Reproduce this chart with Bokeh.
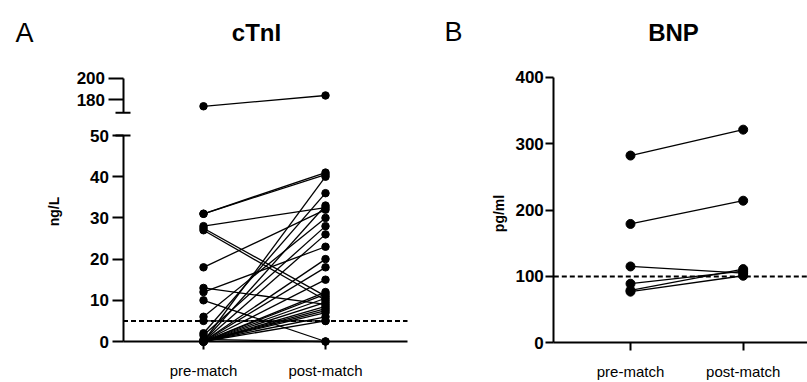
import math
from bokeh.plotting import figure
from bokeh.models import FixedTicker, Label, ColumnDataSource, Range1d, LinearAxis
from bokeh.embed import file_html
from bokeh.resources import INLINE

# ---------------- data ----------------
categories = ["pre-match", "post-match"]

# cTnI (ng/L), one entry per subject
ctni_pre = [31, 31, 28, 27.5, 27, 18, 13, 12, 10, 6, 5, 2, 1.5,
            0, 0, 0, 0, 0, 0, 0, 0, 0, 0, 0, 0, 0, 0, 0, 0.5, 0, 174]
ctni_post = [41, 40.5, 32.5, 11, 10, 32, 9, 23, 0, 30, 5, 36, 28,
             40, 33, 26, 20, 18, 15, 12, 11.5, 10.5, 9.5, 8.5, 8, 7, 6, 5, 0, 7.5, 184]
ctni_low_ticks = [0, 10, 20, 30, 40, 50]
ctni_high_ticks = [180, 200]
ctni_break = 168
ctni_cutoff = 5

# BNP (pg/ml)
bnp_pre = [282, 179, 115, 89, 79, 77]
bnp_post = [321, 214, 105, 108, 111, 101]
bnp_ticks = [0, 100, 200, 300, 400]
bnp_cutoff = 100

# ---------------- layout helpers ----------------
W, H = 807, 382
FONT = "Liberation Sans"
xpos = {c: i + 1 for i, c in enumerate(categories)}
x_pre, x_post = xpos[categories[0]], xpos[categories[1]]


def xrange_from(px_a, va, px_b, vb):
    s = (px_b - px_a) / (vb - va)
    start = va - px_a / s
    return Range1d(start, start + W / s), s


def yrange_from(py_a, va, py_b, vb):
    s = (py_a - py_b) / (vb - va)
    start = va - (H - py_a) / s
    return Range1d(start, start + H / s), s


xl_rng, xl_s = xrange_from(203, x_pre, 325, x_post)
xr_rng, xr_s = xrange_from(630, x_pre, 742.7, x_post)
yl_rng, yl_s = yrange_from(341, 0, 135, 50)
yh_rng, yh_s = yrange_from(99.3, 180, 77.7, 200)
yr_rng, yr_s = yrange_from(342.3, 0, 76.7, 400)

XL = (x_pre - (203 - 122.5) / xl_s, x_post + (407 - 325) / xl_s)
XR = (x_pre - (630 - 553.3) / xr_s, xr_rng.end)

p = figure(width=W, height=H, x_range=Range1d(0, W), y_range=Range1d(H, 0),
           min_border=0, x_axis_location=None, y_axis_location=None, title=None,
           output_backend="svg", toolbar_location=None)
p.xgrid.visible = False
p.ygrid.visible = False
p.outline_line_color = None
p.background_fill_color = "white"
p.border_fill_color = "white"
p.extra_x_ranges = {"xl": xl_rng, "xr": xr_rng}
p.extra_y_ranges = {"yl": yl_rng, "yh": yh_rng, "yr": yr_rng}


def make_axis(xname, yname, loc, ticks, bounds, tick_out, standoff, size="17px", bold=True):
    ax = LinearAxis(x_range_name=xname, y_range_name=yname, fixed_location=loc,
                    ticker=FixedTicker(ticks=ticks), bounds=bounds)
    ax.axis_line_width = 2
    ax.axis_line_color = "black"
    ax.major_tick_line_width = 2
    ax.major_tick_line_color = "black"
    ax.major_tick_out = tick_out
    ax.major_tick_in = 0
    ax.minor_tick_line_color = None
    ax.major_label_text_font = FONT
    ax.major_label_text_font_size = size
    ax.major_label_text_font_style = "bold" if bold else "normal"
    ax.major_label_text_color = "black"
    ax.major_label_standoff = standoff
    return ax


def draw_pairs(pre, post, xname, yname, size):
    src = ColumnDataSource(dict(x0=[x_pre] * len(pre), y0=pre,
                                x1=[x_post] * len(post), y1=post))
    kw = dict(source=src, x_range_name=xname, y_range_name=yname)
    p.segment("x0", "y0", "x1", "y1", line_color="black", line_width=1.3, **kw)
    p.scatter("x0", "y0", size=size, color="black", **kw)
    p.scatter("x1", "y1", size=size, color="black", **kw)


def text(x, y, t, size, bold=False, align="left", angle=0.0, baseline="alphabetic"):
    p.add_layout(Label(x=x, y=y, text=t, text_font=FONT, text_font_size=size,
                       text_font_style="bold" if bold else "normal", text_color="black",
                       text_align=align, text_baseline=baseline, angle=angle))


# ---------------- cTnI panel ----------------
split = ctni_low_ticks[-1]
low_pre = [a for a, b in zip(ctni_pre, ctni_post) if max(a, b) <= split]
low_post = [b for a, b in zip(ctni_pre, ctni_post) if max(a, b) <= split]
high_pre = [a for a, b in zip(ctni_pre, ctni_post) if max(a, b) > split]
high_post = [b for a, b in zip(ctni_pre, ctni_post) if max(a, b) > split]

p.add_layout(make_axis("xl", "yl", XL[0], ctni_low_ticks,
                       (ctni_low_ticks[0], ctni_low_ticks[-1]), 11, 3), "left")
p.add_layout(make_axis("xl", "yh", XL[0], ctni_high_ticks,
                       (ctni_break, ctni_high_ticks[-1]), 15, 3), "left")
xa = make_axis("xl", "yl", 0, list(xpos.values()), XL, 8, 12, size="15px", bold=False)
xa.major_label_overrides = {v: k for k, v in xpos.items()}
p.add_layout(xa, "below")

cap = 7.5 / xl_s
p.segment(x0=[XL[0] - cap], y0=[ctni_break], x1=[XL[0] + cap], y1=[ctni_break],
          line_color="black", line_width=2, x_range_name="xl", y_range_name="yh")
p.segment(x0=[XL[0] - cap], y0=[split], x1=[XL[0] + cap], y1=[split],
          line_color="black", line_width=2, x_range_name="xl", y_range_name="yl")
p.segment(x0=[XL[0]], y0=[ctni_cutoff], x1=[XL[1]], y1=[ctni_cutoff],
          line_color="black", line_width=2, line_dash="5 3",
          x_range_name="xl", y_range_name="yl")
draw_pairs(low_pre, low_post, "xl", "yl", 7.5)
draw_pairs(high_pre, high_post, "xl", "yh", 7.5)

text(15, 32.5, "A", "27px")
text(256, 31.7, "cTnI", "24px", bold=True, align="center")
text(53, 211, "ng/L", "14px", bold=True, align="center", angle=math.pi / 2, baseline="middle")

# ---------------- BNP panel ----------------
p.add_layout(make_axis("xr", "yr", XR[0], bnp_ticks,
                       (bnp_ticks[0], bnp_ticks[-1]), 8, 2), "left")
xb = make_axis("xr", "yr", 0, list(xpos.values()), XR, 8, 12, size="15px", bold=False)
xb.major_label_overrides = {v: k for k, v in xpos.items()}
p.add_layout(xb, "below")
p.segment(x0=[XR[0]], y0=[bnp_cutoff], x1=[XR[1]], y1=[bnp_cutoff],
          line_color="black", line_width=2, line_dash="5 3",
          x_range_name="xr", y_range_name="yr")
draw_pairs(bnp_pre, bnp_post, "xr", "yr", 9)

text(444, 31.7, "B", "27px")
text(673, 31.7, "BNP", "24px", bold=True, align="center")
text(498, 213, "pg/ml", "14px", bold=True, align="center", angle=math.pi / 2, baseline="middle")

open("out.html", "w").write(file_html(p, INLINE))
